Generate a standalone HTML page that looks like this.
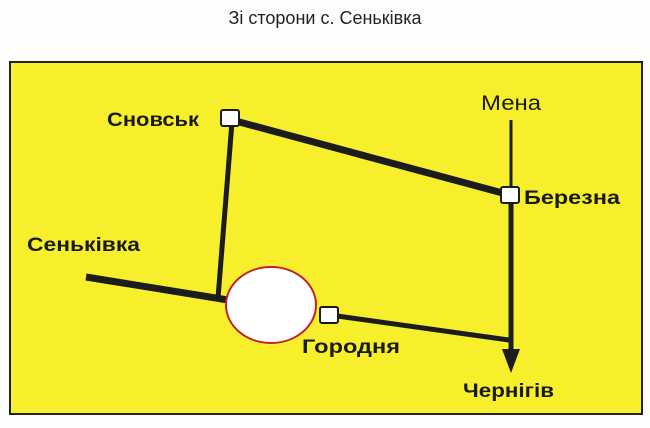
<!DOCTYPE html>
<html><head><meta charset="utf-8"><style>
html,body{margin:0;padding:0;background:#fff;}
svg{display:block;}
text{font-family:"Liberation Sans",sans-serif;}
.b{font-weight:bold;font-size:19px;fill:#1a1a1a;}
</style></head><body>
<svg width="650" height="428" viewBox="0 0 650 428">
<rect x="0" y="0" width="650" height="428" fill="#fdfdfb"/>
<text x="325" y="24" text-anchor="middle" font-size="18" fill="#222">Зі сторони с. Сеньківка</text>
<rect x="10" y="62" width="632" height="352" fill="#f7ef2c" stroke="#222" stroke-width="2"/>
<g stroke="#1c1c1c" stroke-linecap="butt">
<line x1="232" y1="120" x2="510" y2="195" stroke-width="7"/>
<line x1="232" y1="122" x2="218" y2="298" stroke-width="5"/>
<line x1="86" y1="277" x2="228" y2="300" stroke-width="7"/>
<line x1="330" y1="315" x2="509" y2="340" stroke-width="5"/>
<line x1="511" y1="120" x2="511" y2="195" stroke-width="3"/>
<line x1="511" y1="195" x2="511" y2="352" stroke-width="5"/>
</g>
<polygon points="502,349 520,349 511,373" fill="#1c1c1c"/>
<ellipse cx="271" cy="305" rx="45" ry="38" fill="#fff" stroke="#c0212a" stroke-width="2"/>
<rect x="221" y="110" width="18" height="16" rx="2" fill="#fff" stroke="#1c1c1c" stroke-width="2"/>
<rect x="501" y="187" width="18" height="16" rx="2" fill="#fff" stroke="#1c1c1c" stroke-width="2"/>
<rect x="320" y="307" width="18" height="16" rx="2" fill="#fff" stroke="#1c1c1c" stroke-width="2"/>
<text class="b" x="107" y="126" textLength="92" lengthAdjust="spacingAndGlyphs">Сновськ</text>
<text x="481" y="110" font-size="21" fill="#1a1a1a" textLength="60" lengthAdjust="spacingAndGlyphs">Мена</text>
<text class="b" x="524" y="204" textLength="96" lengthAdjust="spacingAndGlyphs">Березна</text>
<text class="b" x="27" y="251" textLength="113" lengthAdjust="spacingAndGlyphs">Сеньківка</text>
<text class="b" x="302" y="353" textLength="98" lengthAdjust="spacingAndGlyphs">Городня</text>
<text class="b" x="463" y="397" textLength="91" lengthAdjust="spacingAndGlyphs">Чернігів</text>
</svg>
</body></html>
